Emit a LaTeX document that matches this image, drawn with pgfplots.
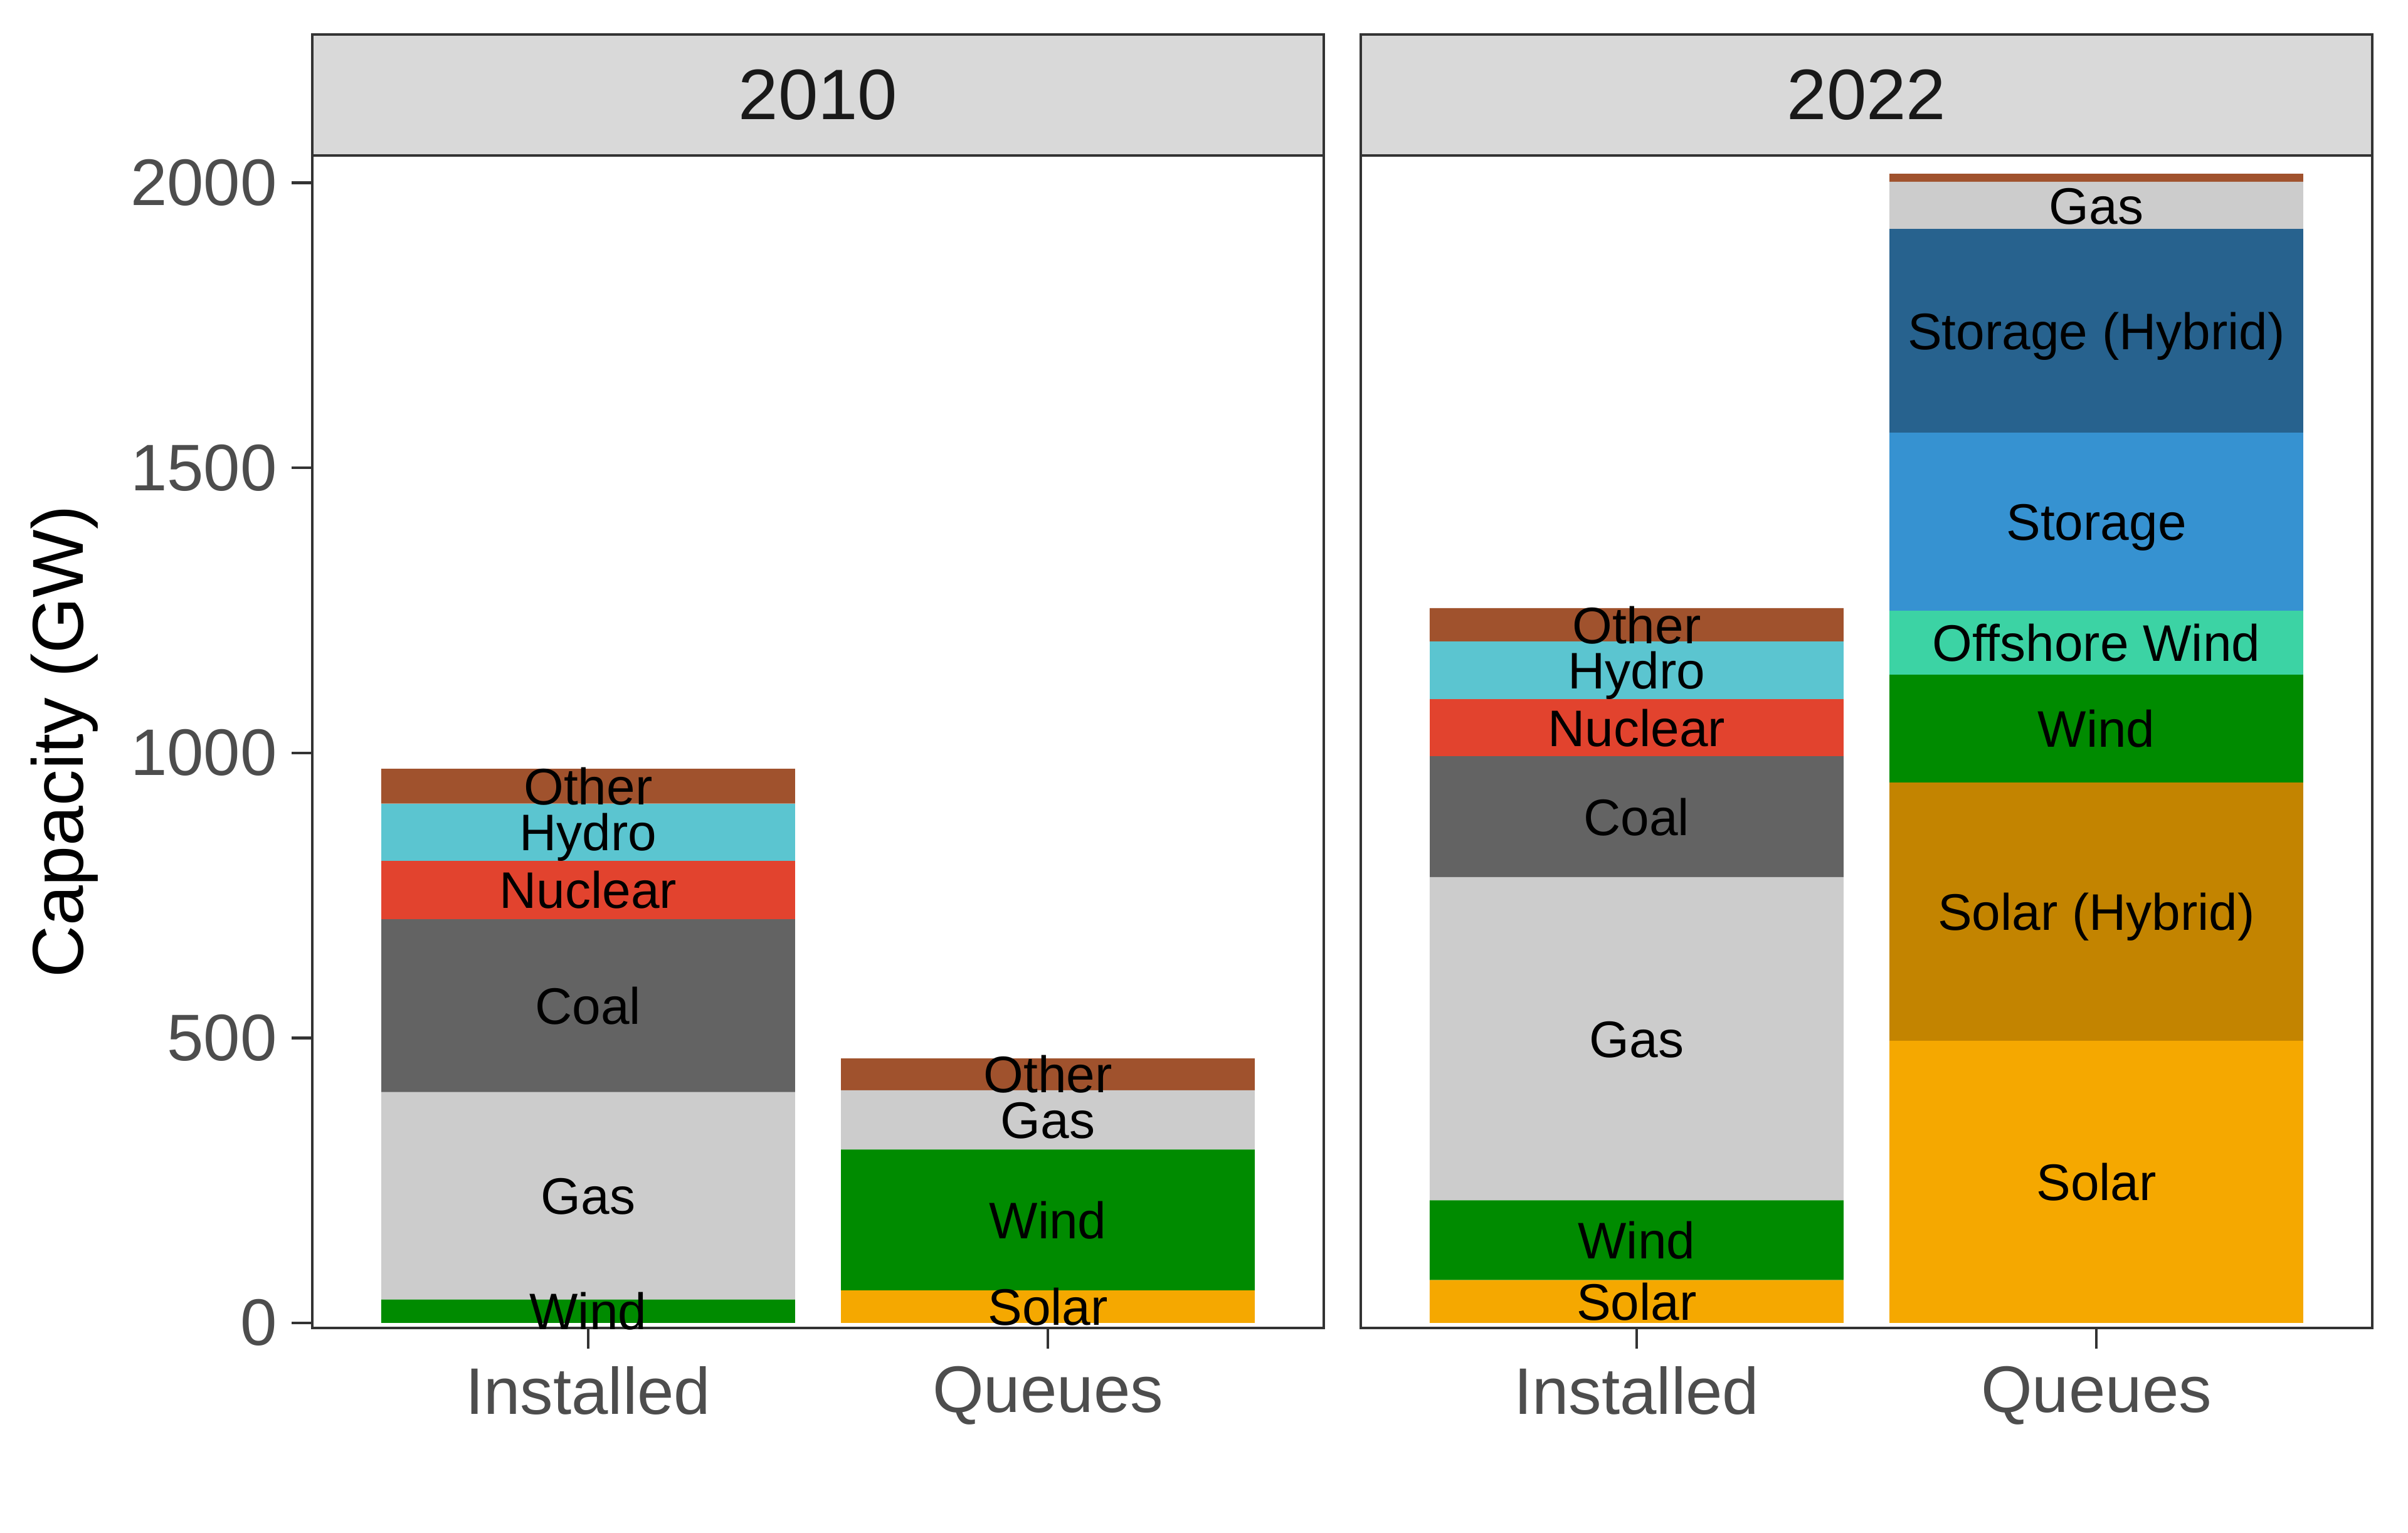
\documentclass[border=0pt]{standalone}
\usepackage{fontspec}
\setmainfont{Liberation Sans}
\usepackage{pgfplots}
\usepackage{pgfplotstable}
\pgfplotsset{compat=1.18}

\definecolor{cOther}{HTML}{A0522D}
\definecolor{cHydro}{HTML}{5BC5D0}
\definecolor{cNuclear}{HTML}{E2432E}
\definecolor{cCoal}{HTML}{636363}
\definecolor{cGas}{HTML}{CCCCCC}
\definecolor{cWind}{HTML}{008B00}
\definecolor{cSolar}{HTML}{F5A800}
\definecolor{cSolarH}{HTML}{C38400}
\definecolor{cOffshore}{HTML}{3CD3A4}
\definecolor{cStorage}{HTML}{3692D1}
\definecolor{cStorageH}{HTML}{27628E}
\definecolor{strip}{HTML}{D9D9D9}
\definecolor{frame}{HTML}{333333}
\definecolor{ticktext}{HTML}{4D4D4D}

% x: 1 = Installed, 2 = Queues (GW)
\pgfplotstableread{
x Solar SolarH Wind Offshore Storage StorageH Gas Coal Nuclear Hydro Other
1 0   0   41  0   0   0   364 303 103 100 61
2 57  0   247 0   0   0   104 0   0   0   56
}\capten
\pgfplotstableread{
x Solar SolarH Wind Offshore Storage StorageH Gas Coal Nuclear Hydro Other
1 75  0   140 0   0   0   567 212 100 101 59
2 495 453 189 112 313 357 83  0   0   0   14
}\captwo

% label positions (middle of each segment)
\pgfplotstableread[col sep=comma]{
x,y,label
1,20.5,Wind
1,223,Gas
1,556.5,Coal
1,759.5,Nuclear
1,861,Hydro
1,941.5,Other
2,28.5,Solar
2,180.5,Wind
2,356,Gas
2,436,Other
}\labten
\pgfplotstableread[col sep=comma]{
x,y,label
1,37.5,Solar
1,145,Wind
1,498.5,Gas
1,888,Coal
1,1044,Nuclear
1,1144.5,Hydro
1,1224.5,Other
2,247.5,Solar
2,721.5,Solar (Hybrid)
2,1042.5,Wind
2,1193,Offshore Wind
2,1405.5,Storage
2,1740.5,Storage (Hybrid)
2,1960.5,Gas
}\labtwo

\pgfplotsset{
  panel/.style={
    scale only axis, width=161.3pt, height=187pt,
    xmin=0.4, xmax=2.6, ymin=-9, ymax=2048,
    xtick={1,2}, xticklabels={Installed,Queues},
    ytick={0,500,1000,1500,2000},
    tick pos=left, tick align=outside, major tick length=3.3pt,
    tick style={frame, line width=0.45pt},
    axis line style={frame, line width=0.45pt},
    ticklabel style={font=\fontsize{10.5}{12}\selectfont, text=ticktext},
    yticklabel style={xshift=1.2pt},
    xticklabel style={yshift=0.7pt},
    /pgf/number format/assume math mode=true,
    /pgf/number format/1000 sep={},
  },
  bars/.style={panel, ybar stacked, bar width=0.9},
  seg/.style={fill=#1, draw=none},
  labels/.style={panel, hide axis, clip=false},
  seglabel/.style={sharp plot, draw=none, mark=none, nodes near coords,
    point meta=explicit symbolic,
    every node near coord/.style={anchor=center, inner sep=0pt, text=black,
      text height=5.9pt, text depth=0pt,
      font=\fontsize{8.2}{9}\selectfont}},
}

\begin{document}
\begin{tikzpicture}
\useasboundingbox (-49.8pt,-32.6pt) rectangle (334.2pt,211.8pt);

\begin{axis}[bars, name=p1,
  ylabel={Capacity (GW)},
  every axis y label/.style={at={(axis description cs:-0.245,0.5)},
    rotate=90, anchor=center, font=\fontsize{11.5}{13}\selectfont, text=black}]
  \addplot[seg=cSolar]     table[x=x, y=Solar]    {\capten};
  \addplot[seg=cSolarH]    table[x=x, y=SolarH]   {\capten};
  \addplot[seg=cWind]      table[x=x, y=Wind]     {\capten};
  \addplot[seg=cOffshore]  table[x=x, y=Offshore] {\capten};
  \addplot[seg=cStorage]   table[x=x, y=Storage]  {\capten};
  \addplot[seg=cStorageH]  table[x=x, y=StorageH] {\capten};
  \addplot[seg=cGas]       table[x=x, y=Gas]      {\capten};
  \addplot[seg=cCoal]      table[x=x, y=Coal]     {\capten};
  \addplot[seg=cNuclear]   table[x=x, y=Nuclear]  {\capten};
  \addplot[seg=cHydro]     table[x=x, y=Hydro]    {\capten};
  \addplot[seg=cOther]     table[x=x, y=Other]    {\capten};
\end{axis}
\begin{axis}[labels]
  \addplot[seglabel] table[x=x, y=y, meta=label] {\labten};
\end{axis}

\begin{axis}[bars, name=p2, at={(167.2pt,0)}, ytick=\empty]
  \addplot[seg=cSolar]     table[x=x, y=Solar]    {\captwo};
  \addplot[seg=cSolarH]    table[x=x, y=SolarH]   {\captwo};
  \addplot[seg=cWind]      table[x=x, y=Wind]     {\captwo};
  \addplot[seg=cOffshore]  table[x=x, y=Offshore] {\captwo};
  \addplot[seg=cStorage]   table[x=x, y=Storage]  {\captwo};
  \addplot[seg=cStorageH]  table[x=x, y=StorageH] {\captwo};
  \addplot[seg=cGas]       table[x=x, y=Gas]      {\captwo};
  \addplot[seg=cCoal]      table[x=x, y=Coal]     {\captwo};
  \addplot[seg=cNuclear]   table[x=x, y=Nuclear]  {\captwo};
  \addplot[seg=cHydro]     table[x=x, y=Hydro]    {\captwo};
  \addplot[seg=cOther]     table[x=x, y=Other]    {\captwo};
\end{axis}
\begin{axis}[labels, at={(167.2pt,0)}]
  \addplot[seglabel] table[x=x, y=y, meta=label] {\labtwo};
\end{axis}

% facet strips
\foreach \p/\yr in {p1/2010, p2/2022} {
  \draw[frame, fill=strip, line width=0.45pt]
    (\p.north west) rectangle ([yshift=19.3pt]\p.north east);
  \node[text=black!90, font=\fontsize{11.4}{13}\selectfont]
    at ([yshift=9.65pt]\p.north) {\yr};
}
\end{tikzpicture}
\end{document}
